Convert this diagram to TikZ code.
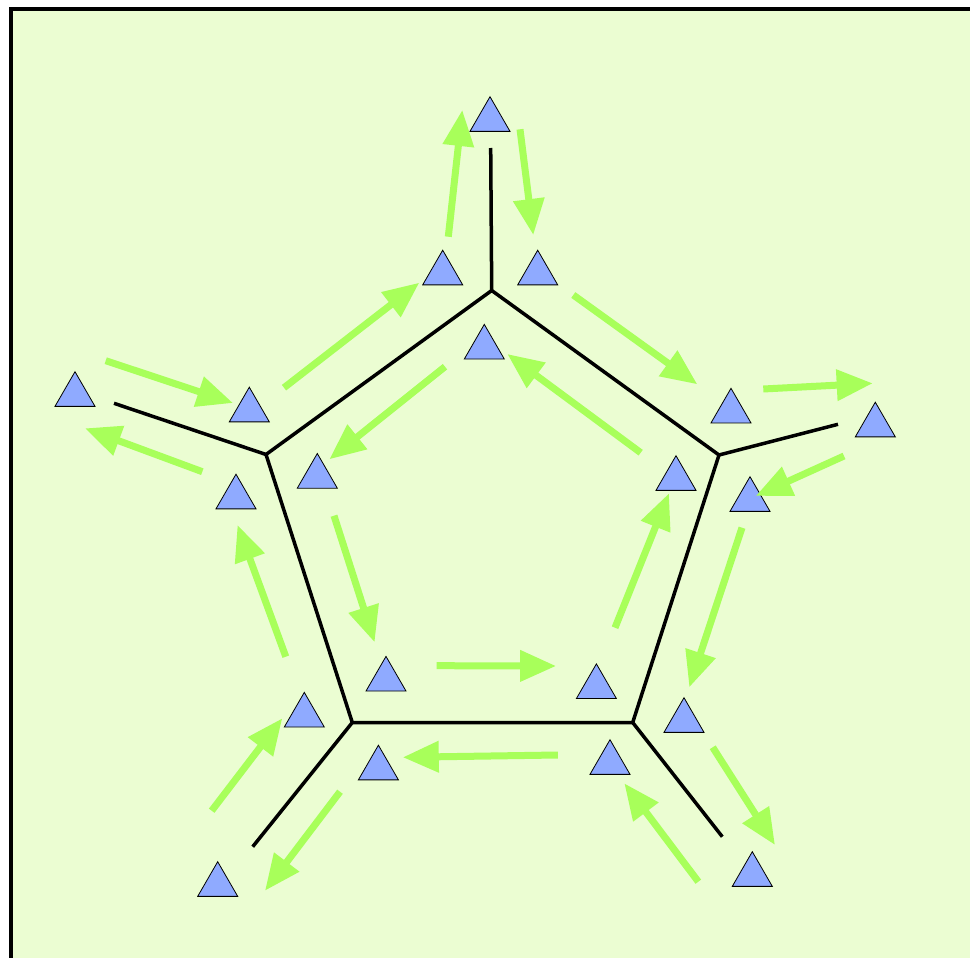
\documentclass[tikz,border=0pt]{standalone}
\usetikzlibrary{shapes.geometric,arrows.meta}
\definecolor{bgcol}{RGB}{235,253,210}
\definecolor{tricol}{RGB}{143,170,255}
\definecolor{arrcol}{RGB}{168,255,90}
\begin{document}
\begin{tikzpicture}[x=1pt,y=-1pt,
  tri/.style={regular polygon, regular polygon sides=3, minimum size=46.2pt, inner sep=0pt, fill=tricol, draw=black, line width=0.8pt},
  flow/.style={draw=arrcol, fill=arrcol, line width=7pt, -{Triangle[length=36pt,width=30pt]}},
  wall/.style={draw=black, line width=3.5pt, line join=miter}]
\useasboundingbox (0,0) rectangle (970,958);
\clip (0,0) rectangle (970,958);
\fill[white] (0,0) rectangle (970,958);
\draw[fill=bgcol, line width=4pt] (11,9) rectangle (1000,1000);
% pentagon vertices and spoke ends
\coordinate (A) at (491.7,290.5);
\coordinate (B) at (719,455);
\coordinate (C) at (632.7,722.5);
\coordinate (D) at (352.3,722.5);
\coordinate (E) at (266,454.5);
\coordinate (a) at (490.7,148);
\coordinate (b) at (838,424.3);
\coordinate (c) at (722.3,836.7);
\coordinate (d) at (252.7,846.7);
\coordinate (e) at (114,403.3);
\draw[wall] (A) -- (B) -- (C) -- (D) -- (E) -- cycle;
\draw[wall] (A) -- (a);
\draw[wall] (B) -- (b);
\draw[wall] (C) -- (c);
\draw[wall] (D) -- (d);
\draw[wall] (E) -- (e);
% triangles
\foreach \n/\x/\y in {1/490/119.8, 2/442.7/273.3, 3/537.7/273.3, 4/484.3/347.5,
  5/75/394.8, 6/249.3/410.3, 7/236/497.3, 8/317.3/476.6,
  9/731/411.4, 10/875.3/425.3, 11/750/499.8, 12/676/478.8,
  13/386/679.5, 14/596.4/687, 15/304.3/715.5, 16/378.4/768.3,
  17/217.7/884.8, 18/610/762.8, 19/684/720.8, 20/752.3/874.8}
  \node[tri] (t\n) at (\x,\y) {};
% flow arrows
\foreach \n/\xa/\ya/\xb/\yb in {
  1/448.3/236.7/462.3/110, 2/520/129.3/533.3/235,
  3/284/387.7/419.3/282.7, 4/573.3/295/697.3/384.3,
  5/445/366.7/329.3/459.3, 6/640.7/452.7/507.3/354,
  7/105.7/360.7/233/403, 8/202.3/471.7/85/428.3,
  9/763.3/389/872.7/383.3, 10/844/456/755.7/496,
  11/285.8/656.7/237.5/525, 12/334/515.7/374.6/642.3,
  13/436.6/665.7/556.1/666, 14/557.8/755/402.8/757.3,
  15/615/627.7/669/493.3, 16/742/527.7/689.3/687.3,
  17/211.7/810.7/282.3/718.3, 18/340/791.7/265/890.7,
  19/698.3/881.7/624.3/783.3, 20/712.7/747.3/775/845}
  {
  \coordinate (fs\n) at (\xa,\ya);
  \coordinate (fe\n) at (\xb,\yb);
  \draw[flow] (fs\n) -- (fe\n);
  }
\end{tikzpicture}
\end{document}
